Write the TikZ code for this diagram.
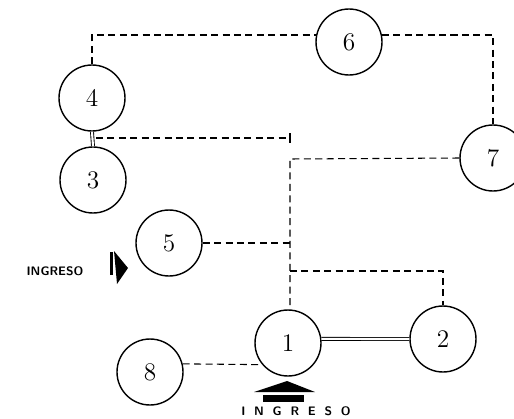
\documentclass[tikz,border=0pt]{standalone}
\usepackage{tikz}

\begin{document}
\begin{tikzpicture}[x=0.02cm,y=-0.02cm,
    nodo/.style={draw,circle,minimum size=1.32cm,inner sep=0pt,line width=0.8pt,font=\Large},
    enlace/.style={dash pattern=on 4pt off 2.5pt,line width=0.6pt},
    doble/.style={double,double distance=1.2pt,line width=0.5pt},
    rotulo/.style={font=\sffamily\bfseries\fontsize{7}{8}\selectfont}]
  \useasboundingbox (0,0) rectangle (514,419);
  % nodos
  \node[nodo] (n6) at (349,42) {6};
  \node[nodo] (n4) at (92,98) {4};
  \node[nodo] (n3) at (93,180) {3};
  \node[nodo] (n7) at (493,158) {7};
  \node[nodo] (n5) at (169,243) {5};
  \node[nodo] (n1) at (288,343) {1};
  \node[nodo] (n2) at (443,339) {2};
  \node[nodo] (n8) at (150,372) {8};
  \coordinate (j43) at (96,138); \coordinate (t) at (290,138);
  \coordinate (v7) at (290,159); \coordinate (j2) at (290,271);
  % enlaces
  \draw[enlace] (n4.north) |- (n6.168);
  \draw[enlace] (n6.12) -| (n7.north);
  \draw[doble] (n4.south) -- (n3.north);
  \draw[enlace] (j43) -- (t);
  \draw[line width=0.6pt] (t) ++(0,-5) -- ++(0,10);
  \draw[enlace] (n7.west) -- (v7) -- (v7 |- n1.north);
  \draw[enlace] (n5.east) -- (n5.east -| v7);
  \draw[enlace] (j2) -| (n2.north);
  \draw[doble] (n1.7) -- (n2.west);
  \draw[enlace] (n8.14) -- (n1.220);
  % ingresos
  \fill (254,392) -- (287,381) -- (315,392) -- cycle;
  \fill (263,395) rectangle (304,402);
  \node[rotulo] (ing1) at (296,411) {I\hspace{5pt}N\hspace{5pt}G\hspace{5pt}R\hspace{5pt}E\hspace{5pt}S\hspace{5pt}O};
  \fill (110,252) rectangle (113,275);
  \fill (114,251) -- (128,268) -- (117,284) -- cycle;
  \node[rotulo] (ing2) at (55,271) {INGRESO};
\end{tikzpicture}
\end{document}
